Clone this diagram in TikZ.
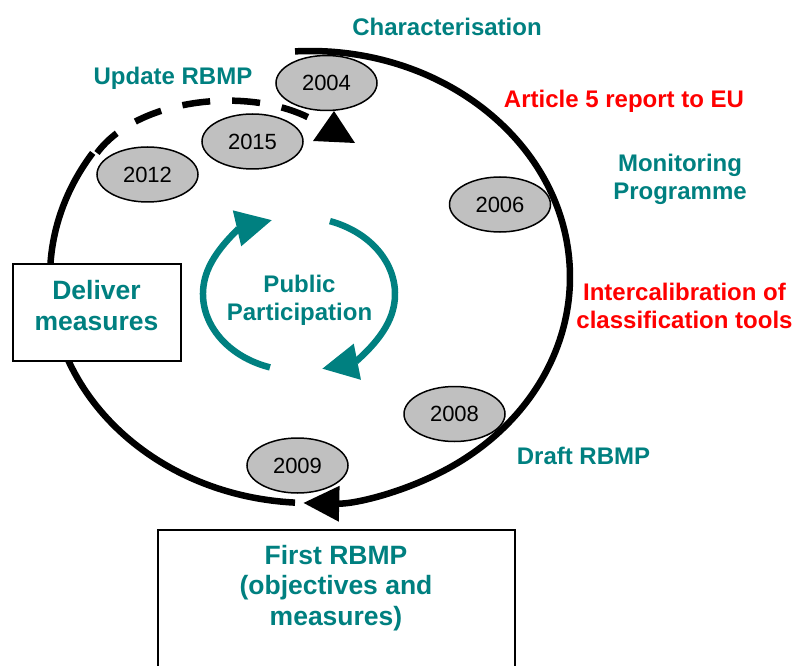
\documentclass[tikz,border=0pt]{standalone}
\usepackage{fontspec}
\setmainfont{Liberation Sans}
\usetikzlibrary{arrows.meta,shapes.geometric}
\definecolor{teal8}{RGB}{0,128,128}
\definecolor{yrgray}{RGB}{192,192,192}
\begin{document}
\begin{tikzpicture}[x=1pt,y=-1pt,
  lbl/.style={inner sep=0pt, font=\bfseries\fontsize{24}{27.6}\selectfont, align=center, text=teal8},
  redlbl/.style={lbl, text=red},
  boxtxt/.style={inner sep=0pt, font=\bfseries\fontsize{26.5}{30.5}\selectfont, align=center, text=teal8},
  year/.style={ellipse, draw=black, line width=1.5pt, fill=yrgray, minimum width=101pt, minimum height=55pt, inner sep=0pt, font=\fontsize{22}{26}\selectfont},
  cyc/.style={line width=6.5pt, black},
  pp/.style={line width=6.5pt, teal8, -{Triangle[length=36pt,width=35pt]}},
  framebox/.style={draw=black, line width=2pt, fill=white, inner sep=0pt}
]
\useasboundingbox (0,0) rectangle (796,666);
\clip (0,0) rectangle (796,666);
% main cycle
\coordinate (C) at (310,277);
\draw[cyc, -{Triangle[length=36pt,width=34pt]}] (C) ++(93.3:260pt and 226pt)
  arc[start angle=93.3, end angle=-91.5, x radius=260pt, y radius=226pt];
\draw[cyc] (C) ++(-93.3:260pt and 226pt)
  arc[start angle=-93.3, end angle=-213.3, x radius=260pt, y radius=226pt];
% dashed update path
\coordinate (d0) at (97,153);
\coordinate (d1) at (320,124);
\draw[line width=6.5pt, dash pattern=on 28pt off 22pt] (d0) .. controls (140,95) and (260,85) .. (d1);
\fill (334,111) -- (313,141) -- (355,143) -- cycle;
% public participation
\coordinate (P) at (299,294);
\draw[pp] (P) ++(252.4:96pt and 77pt) arc[start angle=252.4, end angle=106.3, x radius=96pt, y radius=77pt];
\draw[pp] (P) ++(71.2:96pt and 77pt) arc[start angle=71.2, end angle=-76.1, x radius=96pt, y radius=77pt];
% years
\node[year] (y2004) at (326.5,83) {2004};
\node[year] (y2015) at (252.5,141.5) {2015};
\node[year] (y2012) at (147.5,174.5) {2012};
\node[year] (y2006) at (500,204.5) {2006};
\node[year] (y2008) at (454.5,414) {2008};
\node[year] (y2009) at (297.5,465.5) {2009};
% boxes
\node[framebox, minimum width=168pt, minimum height=97pt] (deliverbox) at (96.5,312) {};
\node[framebox, minimum width=357pt, minimum height=180pt, anchor=north] (firstbox) at (336.5,529) {};
% labels
\node[lbl, anchor=base] (charac) at (447,36) {Characterisation};
\node[lbl, anchor=base] (update) at (173,85) {Update RBMP};
\node[redlbl, anchor=base] (art5) at (624,108) {Article 5 report to EU};
\node[lbl, anchor=base] (monit) at (680,199.3) {Monitoring\\Programme};
\node[boxtxt, anchor=base] (delivertxt) at (96.5,330) {Deliver\\measures};
\node[lbl, anchor=base] (ppt) at (299.5,320.5) {Public\\Participation};
\node[redlbl, anchor=base] (intercal) at (684.5,328) {Intercalibration of\\classification tools};
\node[lbl, anchor=base] (draft) at (583.5,464) {Draft RBMP};
\node[boxtxt, anchor=base] (firsttxt) at (336,625) {First RBMP\\(objectives and\\measures)};
\end{tikzpicture}
\end{document}
